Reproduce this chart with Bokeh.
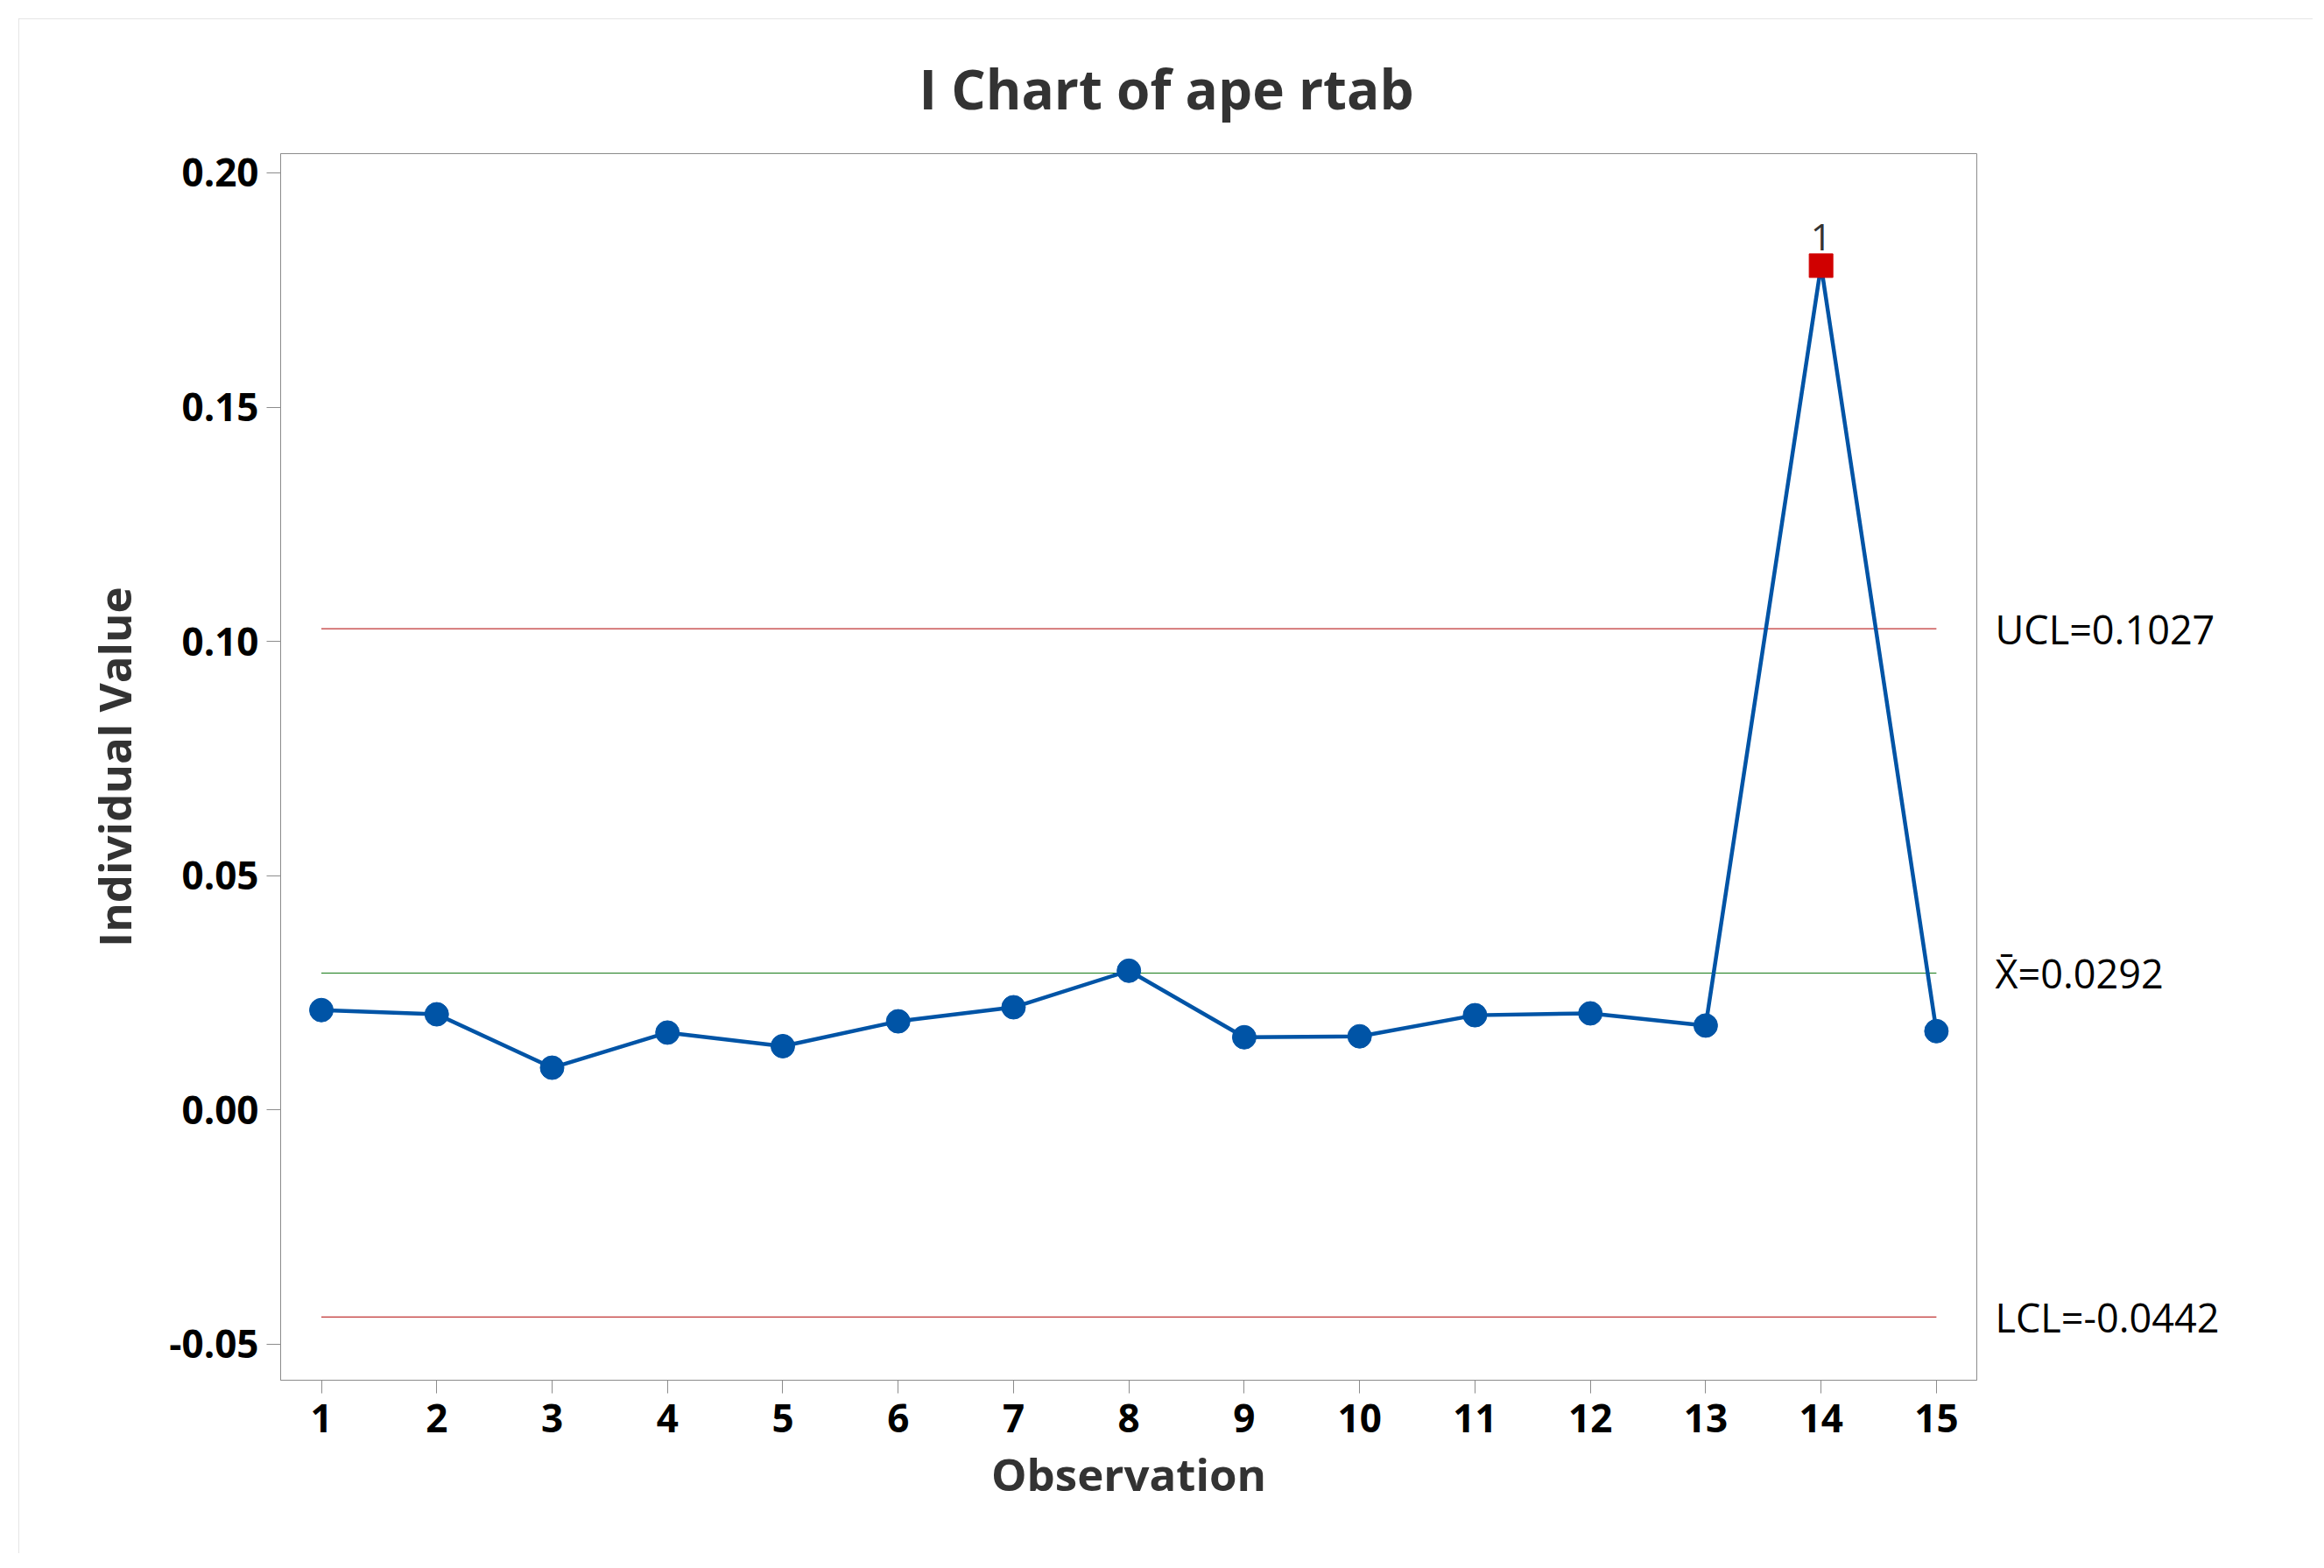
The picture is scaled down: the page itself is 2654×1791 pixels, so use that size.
from bokeh.plotting import figure
from bokeh.models import FixedTicker, Range1d, ColumnDataSource, LinearAxis
from bokeh.core.properties import value
from bokeh.embed import file_html
from bokeh.resources import INLINE

# ---- data ----
observation = list(range(1, 16))
individual_value = [0.0213, 0.0204, 0.0090, 0.0165, 0.0136, 0.0189, 0.0219, 0.0297,
                    0.0155, 0.0157, 0.0202, 0.0206, 0.0180, 0.1802, 0.0168]
ucl = 0.1027
center = 0.0292
lcl = -0.0442
flagged_obs = [14]
flag_text = ["1"]
x_ticks = list(range(1, 16))
y_ticks = [-0.05, 0.0, 0.05, 0.10, 0.15, 0.20]
y_tick_labels = ["-0.05", "0.00", "0.05", "0.10", "0.15", "0.20"]
limit_values = [ucl, center, lcl]
limit_labels = ["UCL=0.1027", "X\u0304=0.0292", "LCL=-0.0442"]
title_text = "I Chart of ape rtab"
x_label = "Observation"
y_label = "Individual Value"

FONT = "Open Sans"
BLUE = "#0054a6"
GRAY = "#8c8c8c"

p = figure(width=2620, height=1753, output_backend="svg", toolbar_location=None,
           x_range=Range1d(0.647, 15.35), y_range=Range1d(-0.0577, 0.2041),
           min_border_left=299, min_border_right=384, min_border_top=154, min_border_bottom=198)
p.margin = (21, 0, 0, 21)
p.styles = {"outline": "2px solid #dcdcdc", "outline-offset": "-2px"}

p.background_fill_color = "white"
p.border_fill_color = "white"
p.outline_line_color = GRAY
p.outline_line_width = 1
p.xgrid.visible = False
p.ygrid.visible = False

# title
p.title.text = title_text
p.title.text_font = FONT
p.title.text_font_size = "62px"
p.title.text_font_style = "bold"
p.title.text_color = "#333333"
p.title.align = "left"
p.title.offset = 729
p.title.standoff = 66

# axes
for ax in (p.xaxis[0], p.yaxis[0]):
    ax.axis_line_color = GRAY
    ax.major_tick_line_color = GRAY
    ax.minor_tick_line_color = None
    ax.major_tick_in = 0
    ax.major_label_text_font = FONT
    ax.major_label_text_font_size = "44px"
    ax.major_label_text_font_style = "bold"
    ax.major_label_text_color = "#000000"
    ax.axis_label_text_font = FONT
    ax.axis_label_text_font_size = "51px"
    ax.axis_label_text_font_style = "bold"
    ax.axis_label_text_color = "#333333"

p.xaxis.ticker = FixedTicker(ticks=x_ticks)
p.xaxis.major_tick_out = 15
p.xaxis.major_label_standoff = 12
p.xaxis.axis_label = x_label
p.xaxis.axis_label_standoff = 9

p.yaxis.ticker = FixedTicker(ticks=y_ticks)
p.yaxis.major_label_overrides = {t: l for t, l in zip(y_ticks, y_tick_labels)}
p.yaxis.major_tick_out = 16
p.yaxis.major_label_standoff = 9
p.yaxis.axis_label = y_label
p.yaxis.axis_label_standoff = 25

# right-hand axis carrying the control limit labels
lim_axis = LinearAxis(ticker=FixedTicker(ticks=limit_values),
                      major_label_overrides={v: l for v, l in zip(limit_values, limit_labels)})
lim_axis.axis_line_color = None
lim_axis.major_tick_line_color = None
lim_axis.minor_tick_line_color = None
lim_axis.major_tick_in = 0
lim_axis.major_tick_out = 0
lim_axis.major_label_standoff = 21
lim_axis.major_label_text_font = FONT
lim_axis.major_label_text_font_size = "45px"
lim_axis.major_label_text_color = "#000000"
p.add_layout(lim_axis, "right")

# control lines
xs = [observation[0], observation[-1]]
p.line(xs, [ucl, ucl], line_color="#b00000", line_width=1)
p.line(xs, [lcl, lcl], line_color="#b00000", line_width=1)
p.line(xs, [center, center], line_color="#157a15", line_width=1)

# data
p.line(observation, individual_value, line_color=BLUE, line_width=4.5)
normal = ColumnDataSource(dict(
    x=[o for o in observation if o not in flagged_obs],
    y=[v for o, v in zip(observation, individual_value) if o not in flagged_obs]))
flag = ColumnDataSource(dict(
    x=[o for o in observation if o in flagged_obs],
    y=[v for o, v in zip(observation, individual_value) if o in flagged_obs],
    t=flag_text))
p.scatter("x", "y", source=normal, marker="circle", size=27, fill_color=BLUE, line_color=BLUE)
p.scatter("x", "y", source=flag, marker="square", size=27, fill_color="#d00000", line_color="#d00000")
p.text("x", "y", text="t", source=flag, text_font=value(FONT), text_font_size="42px",
       text_color="#333333", text_align="center", text_baseline="alphabetic", y_offset=-32)

open("out.html", "w").write(file_html(p, INLINE))
